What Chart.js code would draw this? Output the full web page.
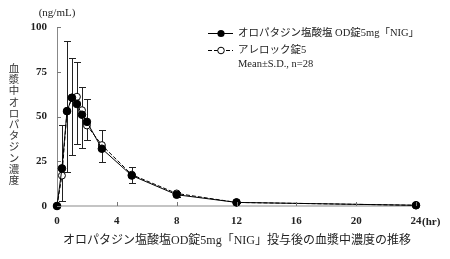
<!doctype html>
<html lang="ja">
<head>
<meta charset="UTF-8">
<title>オロパタジン塩酸塩OD錠5mg「NIG」</title>
<script src="https://cdn.jsdelivr.net/npm/chart.js"></script>
<style>
  body { margin: 0; background: #fff; }
  canvas { display: block; }
</style>
</head>
<body>
<canvas id="chart" width="450" height="259"></canvas>
<script>
// --- data ---
const hours = [0, 0.33, 0.67, 1, 1.33, 1.67, 2, 3, 5, 8, 12, 24];
const nigMean = [0, 21, 53, 60.5, 57, 51, 47, 32, 17, 6.3, 2, 0.4];
const nigSdUp = [0, 24, 39, 22, 23.5, 15.5, 13, 10.5, 5, 1.3, 0.5, 0];
const refMean = [0, 17, 53, 60.5, 61, 53.5, 45, 34, 17.5, 7, 2, 0.4];
const refSdDown = [0, 14, 34, 32, 26.5, 21.3, 8, 9.2, 4.5, 2, 0.5, 0];
const xTicks = [0, 4, 8, 12, 16, 20, 24];
const yTicks = [0, 25, 50, 75, 100];

const nigLabel = "オロパタジン塩酸塩 OD錠5mg「NIG」";
const refLabel = "アレロック錠5";
const noteLabel = "Mean±S.D., n=28";
const yTitle = "血漿中オロパタジン濃度";
const xTitle = "オロパタジン塩酸塩OD錠5mg「NIG」投与後の血漿中濃度の推移";

const FONT = "'Liberation Serif', 'Noto Sans CJK JP', serif";

const extras = {
  id: "extras",
  beforeDatasetsDraw(chart) {
    const { ctx, scales: { x, y } } = chart;
    ctx.save();
    ctx.strokeStyle = "#222";
    ctx.lineWidth = 1;
    const bar = (t, from, to) => {
      const px = Math.round(x.getPixelForValue(t)) + 0.5;
      const y1 = y.getPixelForValue(from);
      const y2 = Math.round(y.getPixelForValue(to)) + 0.5;
      ctx.beginPath();
      ctx.moveTo(px, y1); ctx.lineTo(px, y2);
      ctx.moveTo(px - 3.5, y2); ctx.lineTo(px + 3.5, y2);
      ctx.stroke();
    };
    hours.forEach((t, i) => {
      if (nigSdUp[i] > 0) bar(t, nigMean[i], nigMean[i] + nigSdUp[i]);
      if (refSdDown[i] > 0) bar(t, refMean[i], Math.max(0, refMean[i] - refSdDown[i]));
    });
    ctx.restore();
  },
  afterDraw(chart) {
    const { ctx, chartArea: a, scales: { x, y } } = chart;
    ctx.save();
    // tick marks (inside)
    ctx.strokeStyle = "#777";
    ctx.lineWidth = 1;
    ctx.beginPath();
    yTicks.forEach(v => {
      const py = Math.round(y.getPixelForValue(v)) + 0.5;
      ctx.moveTo(a.left, py); ctx.lineTo(a.left + 4, py);
    });
    xTicks.slice(1).forEach(v => {
      const px = Math.round(x.getPixelForValue(v)) + 0.5;
      ctx.moveTo(px, a.bottom); ctx.lineTo(px, a.bottom - 4);
    });
    ctx.stroke();

    ctx.fillStyle = "#222";
    ctx.textBaseline = "middle";
    // unit labels
    ctx.font = "11px " + FONT;
    ctx.textAlign = "center";
    ctx.fillText("(ng/mL)", 57, 13);
    ctx.textAlign = "left";
    ctx.font = "bold 11px " + FONT;
    ctx.fillText("(hr)", x.getPixelForValue(24) + 6, 222);

    // vertical y title, one char per line
    ctx.font = "10.5px 'Noto Sans CJK JP'";
    ctx.textAlign = "center";
    ctx.fillStyle = "#333";
    [...yTitle].forEach((ch, i) => ctx.fillText(ch, 14, 68 + i * 11.2));

    // x title
    ctx.fillStyle = "#222";
    ctx.font = "12px " + FONT;
    ctx.fillText(xTitle, 237, 241);

    // legend
    const lx0 = 208, lx1 = 233, tx = 238;
    ctx.lineWidth = 1;
    ctx.strokeStyle = "#000";
    ctx.beginPath(); ctx.moveTo(lx0, 33.5); ctx.lineTo(lx1, 33.5); ctx.stroke();
    ctx.beginPath(); ctx.arc(221, 33.5, 3.6, 0, Math.PI * 2); ctx.fillStyle = "#000"; ctx.fill();
    ctx.setLineDash([4, 2]);
    ctx.beginPath(); ctx.moveTo(lx0, 50.5); ctx.lineTo(lx1, 50.5); ctx.stroke();
    ctx.setLineDash([]);
    ctx.beginPath(); ctx.arc(221, 50.5, 3.3, 0, Math.PI * 2); ctx.fillStyle = "#fff"; ctx.fill(); ctx.stroke();
    ctx.fillStyle = "#222";
    ctx.textAlign = "left";
    ctx.font = "10.5px " + FONT;
    ctx.fillText(nigLabel, tx, 33.5);
    ctx.fillText(refLabel, tx, 50.5);
    ctx.fillText(noteLabel, tx, 64.5);
    ctx.restore();
  }
};

const tickFont = { family: FONT, size: 11, weight: "bold" };

new Chart(document.getElementById("chart").getContext("2d"), {
  type: "line",
  data: {
    datasets: [
      {
        label: nigLabel,
        data: hours.map((t, i) => ({ x: t, y: nigMean[i] })),
        borderColor: "#000", borderWidth: 1,
        pointRadius: 3.8, pointBackgroundColor: "#000", pointBorderColor: "#000",
        tension: 0, clip: false
      },
      {
        label: refLabel,
        data: hours.map((t, i) => ({ x: t, y: refMean[i] })),
        borderColor: "#000", borderWidth: 1, borderDash: [4, 2],
        pointRadius: 3.5, pointBackgroundColor: "#fff", pointBorderColor: "#000", pointBorderWidth: 1,
        tension: 0, clip: false
      }
    ]
  },
  options: {
    responsive: false,
    animation: false,
    layout: { padding: { top: 27, right: 34, left: 0, bottom: 0 } },
    plugins: { legend: { display: false }, tooltip: { enabled: false } },
    scales: {
      x: {
        type: "linear", min: 0, max: 24,
        afterBuildTicks: s => { s.ticks = xTicks.map(v => ({ value: v })); },
        ticks: { padding: 9, font: tickFont, color: "#222", maxRotation: 0 },
        grid: { display: false, drawTicks: false },
        border: { color: "#c4c4c4", width: 2 },
        afterFit: s => { s.height = 53; }
      },
      y: {
        min: 0, max: 100,
        afterBuildTicks: s => { s.ticks = yTicks.map(v => ({ value: v })); },
        ticks: { padding: 10, font: tickFont, color: "#222" },
        grid: { display: false, drawTicks: false },
        border: { color: "#888", width: 1 },
        afterFit: s => { s.width = 57; }
      }
    }
  },
  plugins: [extras]
});
</script>
</body>
</html>
